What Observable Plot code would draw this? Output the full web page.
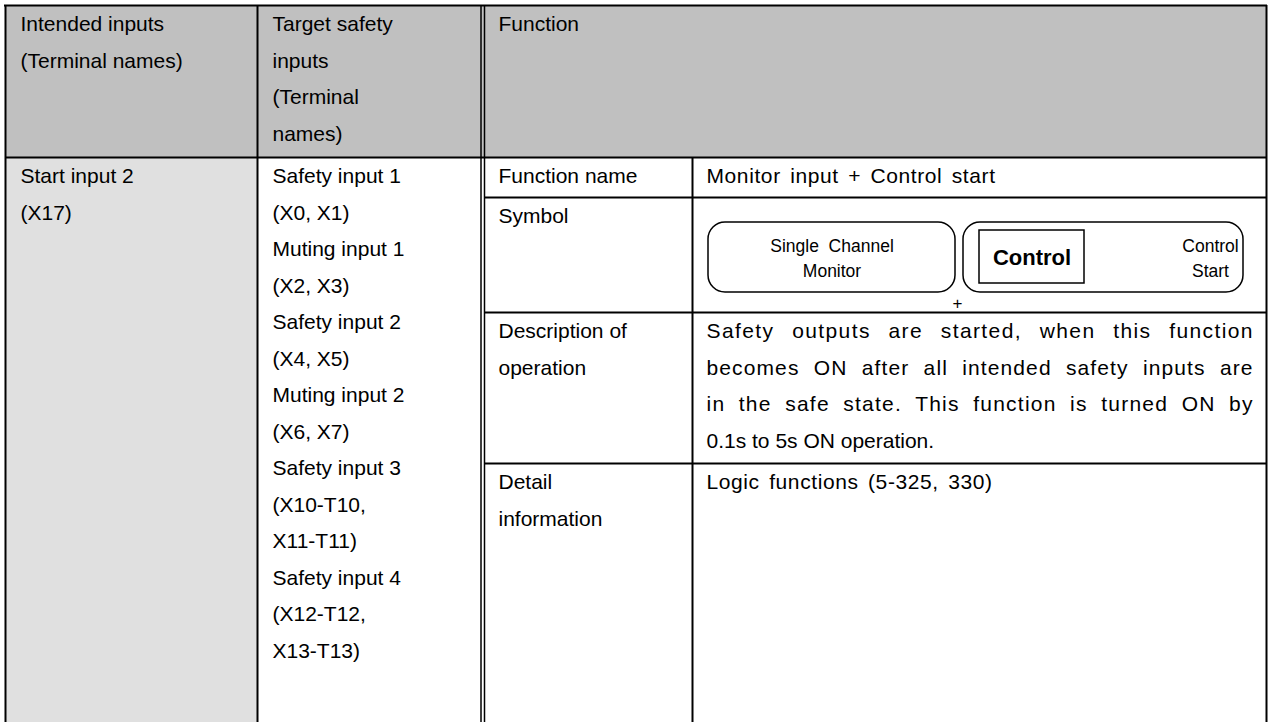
<!DOCTYPE html>
<html>
<head>
<meta charset="utf-8">
<script src="https://cdn.jsdelivr.net/npm/d3@7"></script>
<script src="https://cdn.jsdelivr.net/npm/@observablehq/plot@0.6"></script>
<style>
  html, body { margin: 0; padding: 0; background: #ffffff; }
  #chart svg { display: block; }
</style>
</head>
<body>
<div id="chart"></div>
<script>
// ---------- content ----------
const headerLabels = [
  "Intended inputs\n(Terminal names)",
  "Target safety\ninputs\n(Terminal\nnames)",
  "Function"
];
const intendedInputs = ["Start input 2", "(X17)"];
const targetSafetyInputs = [
  "Safety input 1", "(X0, X1)",
  "Muting input 1", "(X2, X3)",
  "Safety input 2", "(X4, X5)",
  "Muting input 2", "(X6, X7)",
  "Safety input 3", "(X10-T10,", "X11-T11)",
  "Safety input 4", "(X12-T12,", "X13-T13)"
];
const functionItems = ["Function name", "Symbol", "Description of\noperation", "Detail\ninformation"];
const functionValues = [
  "Monitor input + Control start",
  "",
  "Safety outputs are started, when this function\nbecomes ON after all intended safety inputs are\nin the safe state. This function is turned ON by\n0.1s to 5s ON operation.",
  "Logic functions (5-325, 330)"
];
const symbolMonitorText = "Single  Channel\nMonitor";
const symbolControlLabel = "Control";
const symbolControlText = "Control\nStart";
const symbolJoin = "+";

// ---------- layout ----------
const W = 1272, H = 722;
const colX = [5, 257, 482.5, 692, 1266];     // column boundaries
const tableTop = 5, headBottom = 157;
const rowY = [157, 197, 312, 463, 760];      // right-hand sub-rows
const padX = [15, 15, 14, 14];
const fs = 21, lh = 36.5 / 21;
const font = "'Liberation Sans', Arial, Helvetica, sans-serif";

const texts = [];
headerLabels.forEach((t, i) => {
  const xx = i < 2 ? colX[i] + padX[i] : colX[2] + 1.5 + padX[2];
  texts.push({x: xx, y: tableTop, t});
});
texts.push({x: colX[0] + padX[0], y: headBottom, t: intendedInputs.join("\n")});
texts.push({x: colX[1] + padX[1], y: headBottom, t: targetSafetyInputs.join("\n")});
functionItems.forEach((t, i) => texts.push({x: colX[2] + 1.5 + padX[2], y: rowY[i], t}));
const valueTexts = functionValues.map((t, i) => ({x: colX[3] + padX[3], y: rowY[i], t, justify: t.includes("\n")}));

const bgs = [
  {x1: colX[0], x2: colX[4], y1: tableTop, y2: headBottom, fill: "#c0c0c0"},
  {x1: colX[0], x2: colX[1], y1: headBottom, y2: H, fill: "#e0e0e0"}
];
const hRules = [
  {y: tableTop, x1: colX[0] - 1, x2: colX[4] + 1},
  {y: headBottom, x1: colX[0], x2: colX[4]},
  {y: rowY[1], x1: colX[2] + 2, x2: colX[4]},
  {y: rowY[2], x1: colX[2] + 2, x2: colX[4]},
  {y: rowY[3], x1: colX[2] + 2, x2: colX[4]}
];
const vRulesThick = [
  {x: colX[0], y1: tableTop, y2: H},
  {x: colX[1], y1: tableTop, y2: H},
  {x: colX[3], y1: headBottom, y2: H},
  {x: colX[4], y1: tableTop, y2: H}
];
const vRulesThin = [
  {x: colX[2] - 2, y1: tableTop, y2: H},
  {x: colX[2] + 1.5, y1: tableTop, y2: H}
];

// symbol geometry (inside the Symbol cell)
const boxes = [
  {x1: 708, x2: 955, y1: 222, y2: 292},
  {x1: 963, x2: 1243, y1: 222, y2: 292}
];
const innerBox = [{x1: 979, x2: 1084, y1: 230, y2: 283}];

const plot = Plot.plot({
  width: W, height: H,
  marginTop: 0, marginRight: 0, marginBottom: 0, marginLeft: 0,
  x: {type: "linear", domain: [0, W], range: [0, W], axis: null},
  y: {type: "linear", domain: [0, H], range: [0, H], axis: null},
  style: {fontFamily: font, background: "#ffffff"},
  marks: [
    Plot.rect(bgs, {x1: "x1", x2: "x2", y1: "y1", y2: "y2", fill: d => d.fill}),
    Plot.ruleY(hRules, {y: "y", x1: "x1", x2: "x2", stroke: "#000", strokeWidth: 2}),
    Plot.ruleX(vRulesThick, {x: "x", y1: "y1", y2: "y2", stroke: "#000", strokeWidth: 2}),
    Plot.ruleX(vRulesThin, {x: "x", y1: "y1", y2: "y2", stroke: "#000", strokeWidth: 1.5}),
    Plot.text(texts, {
      x: "x", y: "y", text: "t",
      textAnchor: "start", lineAnchor: "top", lineHeight: lh,
      fontSize: fs, fill: "#000"
    }),
    Plot.text(valueTexts.filter(d => !d.justify), {
      x: "x", y: "y", text: "t", className: "spaced",
      textAnchor: "start", lineAnchor: "top", lineHeight: lh,
      fontSize: fs, fill: "#000"
    }),
    Plot.text(valueTexts.filter(d => d.justify), {
      x: "x", y: "y", text: "t", className: "justified",
      textAnchor: "start", lineAnchor: "top", lineHeight: lh,
      fontSize: fs, fill: "#000"
    }),
    Plot.rect(boxes, {x1: "x1", x2: "x2", y1: "y1", y2: "y2", fill: "none", stroke: "#000", strokeWidth: 1.5, rx: 17}),
    Plot.rect(innerBox, {x1: "x1", x2: "x2", y1: "y1", y2: "y2", fill: "none", stroke: "#000", strokeWidth: 1.5}),
    Plot.text([symbolMonitorText], {
      x: () => (boxes[0].x1 + boxes[0].x2) / 2, y: () => (boxes[0].y1 + boxes[0].y2) / 2 - 1,
      text: d => d, textAnchor: "middle", lineAnchor: "middle", lineHeight: 1.4,
      fontSize: 17.5, fill: "#000"
    }),
    Plot.text([symbolControlLabel], {
      x: () => (innerBox[0].x1 + innerBox[0].x2) / 2, y: () => (innerBox[0].y1 + innerBox[0].y2) / 2 + 1,
      text: d => d, textAnchor: "middle", lineAnchor: "middle",
      fontSize: 22, fontWeight: "bold", fill: "#000"
    }),
    Plot.text([symbolControlText], {
      x: () => boxes[1].x2 - 33, y: () => (boxes[1].y1 + boxes[1].y2) / 2 - 1,
      text: d => d, textAnchor: "middle", lineAnchor: "middle", lineHeight: 1.45,
      fontSize: 17.5, fill: "#000"
    }),
    Plot.text([symbolJoin], {
      x: () => (boxes[0].x2 + boxes[1].x1) / 2 - 2, y: () => boxes[0].y2 + 11,
      text: d => d, textAnchor: "middle", lineAnchor: "middle",
      fontSize: 17, fill: "#000"
    })
  ]
});
document.getElementById("chart").appendChild(plot);

// justify the description lines (all but the last) to the cell width,
// sharing the extra room between word gaps and letter spacing
const justifyWidth = (colX[4] - padX[3]) - (colX[3] + padX[3]);
plot.querySelectorAll(".justified text").forEach(t => {
  const spans = Array.from(t.querySelectorAll("tspan"));
  spans.slice(0, -1).forEach(s => {
    const w = s.getComputedTextLength();
    const gaps = (s.textContent.match(/ /g) || []).length;
    if (gaps > 0 && w < justifyWidth) s.style.wordSpacing = (0.5 * (justifyWidth - w) / gaps) + "px";
    s.setAttribute("textLength", justifyWidth);
    s.setAttribute("lengthAdjust", "spacing");
  });
});
plot.querySelectorAll(".spaced text").forEach(t => {
  t.setAttribute("letter-spacing", "0.6");
  t.setAttribute("word-spacing", "3");
});
</script>
</body>
</html>
